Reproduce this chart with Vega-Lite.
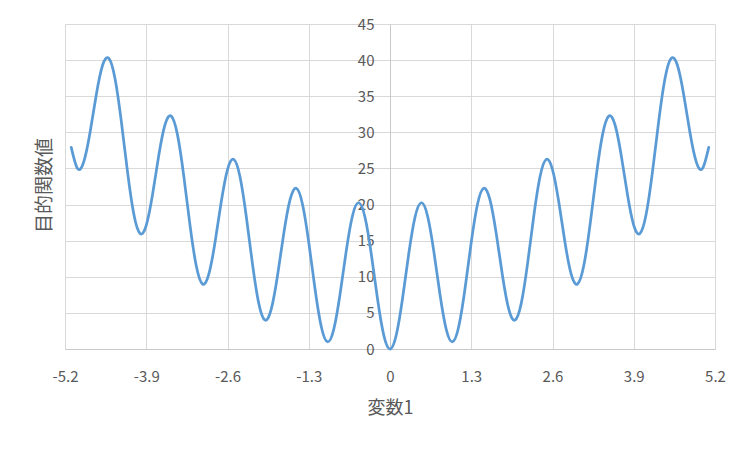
{
  "$schema": "https://vega.github.io/schema/vega-lite/v6.json",
  "width": 650,
  "height": 325,
  "autosize": {"type": "none"},
  "padding": {"left": 65, "top": 24, "right": 37, "bottom": 104},
  "background": "white",
  "config": {
    "view": {"stroke": null},
    "font": "Noto Sans CJK JP",
    "axis": {
      "labelColor": "#595959",
      "titleColor": "#595959",
      "gridColor": "#d9d9d9",
      "gridWidth": 1,
      "domainColor": "#c8c8c8",
      "domainWidth": 1,
      "ticks": false,
      "labelFont": "Noto Sans CJK JP",
      "titleFont": "Noto Sans CJK JP",
      "titleFontWeight": "normal"
    }
  },
  "data": {
    "values": [
      {"x": -5.1, "y": 27.92}, {"x": -5.0, "y": 25}, {"x": -4.9, "y": 25.92}, {"x": -4.8, "y": 29.95}, {"x": -4.7, "y": 35.18},
      {"x": -4.6, "y": 39.25}, {"x": -4.5, "y": 40.25}, {"x": -4.4, "y": 37.45}, {"x": -4.3, "y": 31.58}, {"x": -4.2, "y": 24.55},
      {"x": -4.1, "y": 18.72}, {"x": -4.0, "y": 16}, {"x": -3.9, "y": 17.12}, {"x": -3.8, "y": 21.35}, {"x": -3.7, "y": 26.78},
      {"x": -3.6, "y": 31.05}, {"x": -3.5, "y": 32.25}, {"x": -3.4, "y": 29.65}, {"x": -3.3, "y": 23.98}, {"x": -3.2, "y": 17.15},
      {"x": -3.1, "y": 11.52}, {"x": -3.0, "y": 9}, {"x": -2.9, "y": 10.32}, {"x": -2.8, "y": 14.75}, {"x": -2.7, "y": 20.38},
      {"x": -2.6, "y": 24.85}, {"x": -2.5, "y": 26.25}, {"x": -2.4, "y": 23.85}, {"x": -2.3, "y": 18.38}, {"x": -2.2, "y": 11.75},
      {"x": -2.1, "y": 6.32}, {"x": -2.0, "y": 4}, {"x": -1.9, "y": 5.52}, {"x": -1.8, "y": 10.15}, {"x": -1.7, "y": 15.98},
      {"x": -1.6, "y": 20.65}, {"x": -1.5, "y": 22.25}, {"x": -1.4, "y": 20.05}, {"x": -1.3, "y": 14.78}, {"x": -1.2, "y": 8.35},
      {"x": -1.1, "y": 3.12}, {"x": -1.0, "y": 1}, {"x": -0.9, "y": 2.72}, {"x": -0.8, "y": 7.55}, {"x": -0.7, "y": 13.58},
      {"x": -0.6, "y": 18.45}, {"x": -0.5, "y": 20.25}, {"x": -0.4, "y": 18.25}, {"x": -0.3, "y": 13.18}, {"x": -0.2, "y": 6.95},
      {"x": -0.1, "y": 1.92}, {"x": 0.0, "y": 0},
      {"x": 0.1, "y": 1.92}, {"x": 0.2, "y": 6.95}, {"x": 0.3, "y": 13.18}, {"x": 0.4, "y": 18.25}, {"x": 0.5, "y": 20.25},
      {"x": 0.6, "y": 18.45}, {"x": 0.7, "y": 13.58}, {"x": 0.8, "y": 7.55}, {"x": 0.9, "y": 2.72}, {"x": 1.0, "y": 1},
      {"x": 1.1, "y": 3.12}, {"x": 1.2, "y": 8.35}, {"x": 1.3, "y": 14.78}, {"x": 1.4, "y": 20.05}, {"x": 1.5, "y": 22.25},
      {"x": 1.6, "y": 20.65}, {"x": 1.7, "y": 15.98}, {"x": 1.8, "y": 10.15}, {"x": 1.9, "y": 5.52}, {"x": 2.0, "y": 4},
      {"x": 2.1, "y": 6.32}, {"x": 2.2, "y": 11.75}, {"x": 2.3, "y": 18.38}, {"x": 2.4, "y": 23.85}, {"x": 2.5, "y": 26.25},
      {"x": 2.6, "y": 24.85}, {"x": 2.7, "y": 20.38}, {"x": 2.8, "y": 14.75}, {"x": 2.9, "y": 10.32}, {"x": 3.0, "y": 9},
      {"x": 3.1, "y": 11.52}, {"x": 3.2, "y": 17.15}, {"x": 3.3, "y": 23.98}, {"x": 3.4, "y": 29.65}, {"x": 3.5, "y": 32.25},
      {"x": 3.6, "y": 31.05}, {"x": 3.7, "y": 26.78}, {"x": 3.8, "y": 21.35}, {"x": 3.9, "y": 17.12}, {"x": 4.0, "y": 16},
      {"x": 4.1, "y": 18.72}, {"x": 4.2, "y": 24.55}, {"x": 4.3, "y": 31.58}, {"x": 4.4, "y": 37.45}, {"x": 4.5, "y": 40.25},
      {"x": 4.6, "y": 39.25}, {"x": 4.7, "y": 35.18}, {"x": 4.8, "y": 29.95}, {"x": 4.9, "y": 25.92}, {"x": 5.0, "y": 25},
      {"x": 5.1, "y": 27.92}
    ]
  },
  "mark": {"type": "line", "color": "#5b9bd5", "strokeWidth": 2.75, "interpolate": "natural", "strokeCap": "round"},
  "encoding": {
    "x": {
      "field": "x", "type": "quantitative",
      "scale": {"domain": [-5.2, 5.2], "nice": false, "zero": false},
      "axis": {
        "title": "変数1",
        "values": [-5.2, -3.9, -2.6, -1.3, 0, 1.3, 2.6, 3.9, 5.2],
        "labelExpr": "'' + datum.value",
        "labelFontSize": 15,
        "labelPadding": 20,
        "labelFlush": false,
        "labelOverlap": false,
        "titleFontSize": 18,
        "titlePadding": 15,
        "grid": true
      }
    },
    "y": {
      "field": "y", "type": "quantitative",
      "scale": {"domain": [0, 45], "nice": false},
      "axis": {
        "title": "目的関数値",
        "values": [0, 5, 10, 15, 20, 25, 30, 35, 40, 45],
        "offset": -325,
        "labelFontSize": 15,
        "labelPadding": 16,
        "labelFlush": false,
        "labelOverlap": false,
        "titleFontSize": 19,
        "titleAngle": -90,
        "titleX": -346,
        "titleY": 161,
        "titleAlign": "center",
        "titleBaseline": "middle",
        "grid": true
      }
    }
  }
}
